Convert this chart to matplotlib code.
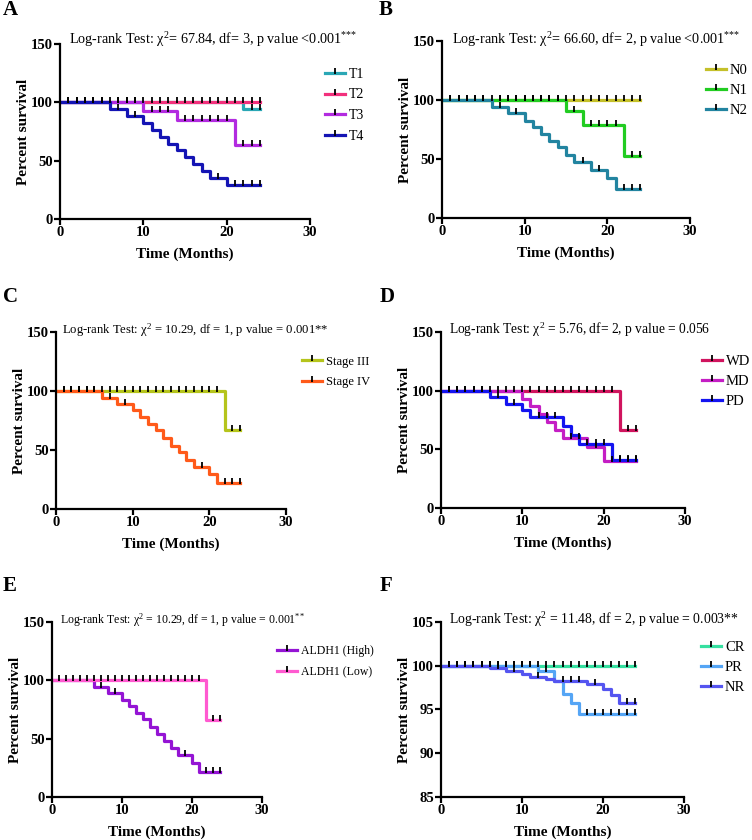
import numpy as np
import matplotlib
matplotlib.use("Agg")
import matplotlib.pyplot as plt
from matplotlib.lines import Line2D
from matplotlib.path import Path

plt.rcParams['font.family'] = ['Liberation Serif', 'DejaVu Serif']
plt.rcParams['mathtext.fontset'] = 'custom'
plt.rcParams['mathtext.rm'] = 'Liberation Serif'
plt.rcParams['mathtext.it'] = 'Liberation Serif:italic'
plt.rcParams['mathtext.bf'] = 'Liberation Serif:bold'

END = 24
ALL = list(range(1, 25))

# ---------------- Panel A (T stage) ----------------
A_names = ["T1", "T2", "T3", "T4"]
A_colors = ["#2AA7B5", "#F2307C", "#B22BE0", "#1414B4"]
A_drop_t = [[22], [], [10, 14, 21], [6, 8, 10, 11, 12, 13, 14, 15, 16, 17, 18, 20]]
A_drop_s = [[94.1], [], [92.9, 85.0, 63.6],
            [94.1, 88.2, 82.4, 76.5, 70.6, 64.7, 58.8, 52.9, 47.1, 41.2, 35.3, 29.4]]
A_cens = [[23, 24], ALL,
          [7, 8, 9, 11, 12, 13, 15, 16, 17, 18, 19, 20, 22, 23, 24],
          [1, 2, 3, 4, 5, 7, 9, 19, 21, 22, 23, 24]]
A_title = "Log-rank Test: χ$^2$= 67.84, df= 3, p value <0.001$^{{*}{*}{*}}$"

# ---------------- Panel B (N stage) ----------------
B_names = ["N0", "N1", "N2"]
B_colors = ["#C4C02A", "#22CC22", "#2284A0"]
B_drop_t = [[], [15, 17, 22], [6, 8, 10, 11, 12, 13, 14, 15, 16, 18, 20, 21]]
B_drop_s = [[], [90.5, 78.5, 52.5],
            [94.4, 88.7, 82.5, 76.8, 71.2, 65.5, 59.9, 53.4, 47.7, 41.0, 33.6, 24.6]]
B_cens = [ALL, [7, 8, 9, 10, 11, 12, 13, 14, 16, 18, 19, 20, 21, 23, 24],
          [1, 2, 3, 4, 5, 7, 9, 17, 19, 22, 23, 24]]
B_title = "Log-rank Test: χ$^2$= 66.60, df= 2, p value <0.001$^{{*}{*}{*}}$"

# ---------------- Panel C (Stage) ----------------
C_names = ["Stage III", "Stage IV"]
C_colors = ["#B5C41C", "#FF5A1A"]
C_drop_t = [[22], [6, 8, 10, 11, 12, 13, 14, 15, 16, 17, 18, 20, 21]]
C_drop_s = [[66.7], [94.4, 89.4, 83.7, 78.0, 72.3, 66.6, 60.0, 53.7, 48.0, 41.7, 36.0, 29.4, 22.3]]
C_cens = [list(range(1, 22)) + [23, 24], [1, 2, 3, 4, 5, 7, 9, 19, 22, 23, 24]]
C_title = "Log-rank Test: χ$^2$ = 10.29, df = 1, p value = 0.001**"

# ---------------- Panel D (differentiation) ----------------
D_names = ["WD", "MD", "PD"]
D_colors = ["#D0145E", "#C41EC4", "#1414F0"]
D_drop_t = [[22], [10, 11, 12, 13, 14, 15, 18, 20], [6, 8, 10, 11, 15, 16, 17, 21]]
D_drop_s = [[66.7], [93.3, 86.7, 80.0, 73.3, 66.7, 60.0, 52.0, 40.0],
            [94.4, 88.9, 83.3, 77.8, 69.9, 62.2, 54.4, 40.8]]
D_cens = [list(range(1, 22)) + [23, 24], [16, 17, 19, 21, 22, 23, 24],
          [1, 2, 3, 4, 5, 7, 9, 12, 13, 14, 18, 19, 20, 22, 23, 24]]
D_title = "Log-rank Test: χ$^2$ = 5.76, df= 2, p value = 0.056"

# ---------------- Panel E (ALDH1) ----------------
E_names = ["ALDH1 (High)", "ALDH1 (Low)"]
E_colors = ["#9414D4", "#FF5AD0"]
E_drop_t = [[6, 8, 10, 11, 12, 13, 14, 15, 16, 17, 18, 20, 21], [22]]
E_drop_s = [[94.4, 89.0, 83.3, 77.8, 72.2, 66.6, 60.0, 53.7, 48.0, 41.7, 36.0, 29.4, 21.8], [66.4]]
E_cens = [[7, 9, 19, 22, 23, 24], list(range(1, 22)) + [23, 24]]
E_title = "Log-rank Test: χ$^2$ = 10.29, df = 1, p value = 0.001$^{{*}{*}}$"

# ---------------- Panel F (response) ----------------
F_names = ["CR", "PR", "NR"]
F_colors = ["#36E0A0", "#55A5F5", "#5555F0"]
F_drop_t = [[], [12, 14, 15, 16, 17], [6, 8, 10, 11, 13, 14, 18, 20, 21, 22]]
F_drop_s = [[], [99.4, 98.3, 96.8, 95.7, 94.5],
            [99.7, 99.4, 99.1, 98.7, 98.5, 98.3, 97.9, 97.3, 96.6, 95.7]]
F_cens = [ALL, list(range(1, 12)) + [13] + list(range(18, 25)),
          [1, 2, 3, 4, 5, 7, 9, 12, 15, 16, 17, 19, 23, 24]]
F_title = "Log-rank Test: χ$^2$ = 11.48, df = 2, p value = 0.003**"

W, H = 752, 840
fig = plt.figure(figsize=(W / 100, H / 100), dpi=100)

TICK = Path([(0, -0.3), (0, 1.0)], [Path.MOVETO, Path.LINETO])
LW = 2.3
MS = 7
PX = 100 / 72


def fx(px):
    return px / W


def fy(py):
    return 1 - py / H


def make_ax(l, r, t, b):
    return fig.add_axes([fx(l), fy(b), fx(r - l), (b - t) / H])


def km(ax, t, s, cens, color):
    xs = [0] + list(t) + [END]
    ys = [100] + list(s) + [s[-1] if s else 100]
    ax.step(xs, ys, where='post', color=color, lw=LW, zorder=2)
    ct = np.array(cens, dtype=float)
    idx = np.searchsorted(np.array(xs[:-1], dtype=float), ct, side='right') - 1
    cy = np.array(ys)[idx]
    ax.plot(ct, cy, ls='none', marker=TICK, ms=MS, mec='k', mew=1.3, zorder=4)


def panel(box, names, colors, drop_t, drop_s, cens, title, title_xy, title_fs,
          leg_xy, leg_fs, letter, letter_xy, ylim=(0, 150), yticks=(0, 50, 100, 150)):
    ax = make_ax(*box)
    for i in range(len(names)):
        km(ax, drop_t[i], drop_s[i], cens[i], colors[i])
    ax.set_xlim(0, 30)
    ax.set_ylim(*ylim)
    ax.set_xticks([0, 10, 20, 30])
    ax.set_yticks(list(yticks))
    for sp in ['top', 'right']:
        ax.spines[sp].set_visible(False)
    for sp in ['left', 'bottom']:
        ax.spines[sp].set_linewidth(1.6)
    ax.tick_params(width=1.6, length=4, labelsize=10.5, pad=1)
    for lab in ax.get_xticklabels() + ax.get_yticklabels():
        lab.set_fontweight('bold')
    ax.set_xlabel("Time (Months)", fontsize=11, fontweight='bold', labelpad=6.5)
    ax.set_ylabel("Percent survival", fontsize=11, fontweight='bold', labelpad=1)
    ax.patch.set_visible(False)
    fig.text(fx(title_xy[0]), fy(title_xy[1]), title, fontsize=title_fs, va='center', ha='left')
    handles = [Line2D([], [], color=c, lw=LW, marker=TICK, ms=MS, mec='k', mew=1.3)
               for c in colors]
    fpx = leg_fs * PX
    top = leg_xy[1] - 0.36 * fpx
    fig.legend(handles, names, loc='upper left',
               bbox_to_anchor=(fx(leg_xy[0]), fy(top)), frameon=False,
               fontsize=leg_fs, handlelength=20 / fpx, handletextpad=4 / fpx,
               labelspacing=20 / fpx - 0.9,
               borderpad=0, borderaxespad=0, numpoints=1)
    fig.text(fx(letter_xy[0]), fy(letter_xy[1]), letter, fontsize=15, fontweight='bold',
             va='center', ha='left')
    return ax


panel((60, 310, 44, 219), A_names, A_colors, A_drop_t, A_drop_s, A_cens, A_title,
      (69, 40), 10.2, (325, 73), 10, "A", (3, 10))
panel((442, 690, 41, 218), B_names, B_colors, B_drop_t, B_drop_s, B_cens, B_title,
      (452, 40), 10.2, (706, 69), 10.5, "B", (379, 10))
panel((56, 286, 332, 509), C_names, C_colors, C_drop_t, C_drop_s, C_cens, C_title,
      (62, 330), 9.1, (302, 360), 9, "C", (3, 297))
panel((441, 685, 332, 508), D_names, D_colors, D_drop_t, D_drop_s, D_cens, D_title,
      (449, 330), 9.75, (702, 360), 10.5, "D", (380, 297))
panel((52, 262, 622, 797), E_names, E_colors, E_drop_t, E_drop_s, E_cens, E_title,
      (60, 620), 8.5, (277, 649), 8.5, "E", (3, 586))
panel((441, 684, 622, 797), F_names, F_colors, F_drop_t, F_drop_s, F_cens, F_title,
      (449, 620), 9.9, (701, 646), 10.5, "F", (380, 586),
      ylim=(85, 105), yticks=(85, 90, 95, 100, 105))

fig.savefig("out.png", dpi=100)
